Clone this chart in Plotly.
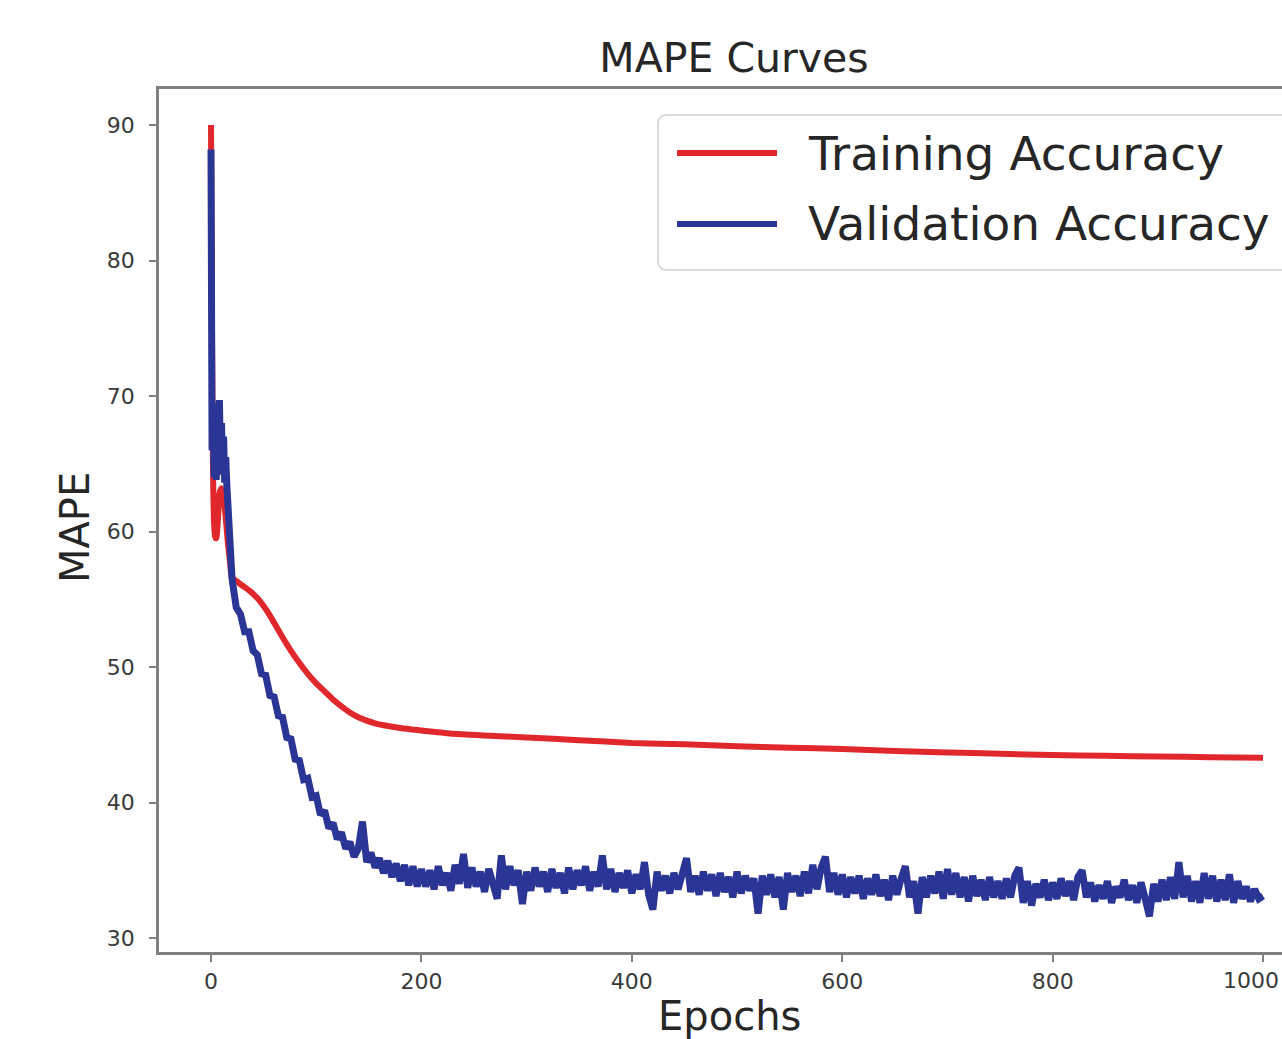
import plotly.graph_objects as go

# ---------------- data ----------------
series_names = ["Training Accuracy", "Validation Accuracy"]
chart_title = "MAPE Curves"
x_label = "Epochs"
y_label = "MAPE"
x_ticks = [0, 200, 400, 600, 800, 1000]
y_ticks = [30, 40, 50, 60, 70, 80, 90]

train_epochs = [0, 1, 2, 3, 4, 5, 6, 7, 8, 10, 12, 14, 16, 18, 20, 25, 30, 37, 44, 50,
                56, 62, 68, 76, 85, 92, 100, 108, 116, 124, 132, 140, 148, 156, 164, 180,
                196, 227, 260, 300, 350, 400, 450, 500, 550, 600, 650, 700, 750, 800, 850,
                900, 950, 1000]
train_mape = [90.0, 74.0, 64.0, 60.5, 59.6, 59.5, 60.2, 61.5, 62.8, 63.2, 62.5, 61.0, 59.2,
              57.8, 56.6, 56.3, 56.0, 55.6, 55.1, 54.5, 53.8, 53.0, 52.2, 51.2, 50.2, 49.5,
              48.8, 48.2, 47.6, 47.1, 46.65, 46.3, 46.05, 45.85, 45.7, 45.5, 45.35, 45.1,
              44.95, 44.8, 44.6, 44.4, 44.3, 44.15, 44.05, 43.95, 43.8, 43.7, 43.6, 43.5,
              43.45, 43.4, 43.35, 43.3]

val_epochs_early = [0, 1, 2, 3, 4, 5, 6, 7, 8, 9, 10, 11, 12, 13, 14, 15, 16, 17, 18, 19]
val_mape_early = [88.2, 66.0, 69.5, 64.0, 69.0, 63.8, 68.5, 64.5, 69.7, 65.0,
                  68.0, 64.2, 67.0, 63.6, 65.5, 63.5, 62.0, 60.5, 59.2, 58.0]

val_epochs_late = list(range(20, 1001, 4))
val_mape_late = [
    56.5, 54.4, 53.9, 52.6, 52.6, 51.2, 50.9, 49.5, 49.4, 47.9,
    47.8, 46.4, 46.3, 44.8, 44.7, 43.2, 43.1, 41.7, 41.8, 40.4,
    40.5, 39.1, 39.4, 38.1, 38.5, 37.3, 37.8, 36.6, 37.1, 36.0,
    36.6, 38.6, 35.6, 36.3, 35.2, 35.9, 34.8, 35.7, 34.5, 35.5,
    34.2, 35.4, 33.9, 35.3, 33.8,
    35.1, 33.8, 35.0, 33.6, 35.3, 33.9, 34.8, 33.5, 35.4, 34.0,
    36.2, 33.7, 35.2, 33.8, 34.9, 33.4, 35.1, 33.9, 32.9, 36.1,
    33.6, 35.3, 33.9, 35.0, 32.5, 34.9, 33.5, 35.2, 33.8, 34.9,
    33.4, 35.1, 33.7, 34.8, 33.3, 35.2, 33.6, 35.0, 33.9, 35.3,
    33.5, 34.9, 33.8, 36.1, 33.6, 35.1, 33.4, 34.8, 33.7, 35.0,
    33.3, 34.7, 33.6, 35.6, 33.2, 32.1, 34.9, 33.5, 34.6, 33.3,
    34.8, 33.6, 35.0, 35.9, 33.4, 34.6, 33.2, 34.9, 33.5, 34.7,
    33.1, 34.8, 33.4, 34.5, 33.0, 34.9, 33.3, 34.6, 33.5, 34.4,
    31.8, 34.6, 33.2, 34.7, 33.0, 34.5, 32.1, 34.8, 33.4, 34.6,
    33.1, 34.9, 33.3, 35.4, 33.6, 35.2, 36.0, 33.4, 34.8, 33.2,
    34.7, 33.0, 34.5, 33.3, 34.6, 32.9, 34.4, 33.2, 34.7, 33.1,
    34.3, 32.8, 34.6, 33.2, 34.4, 35.3, 33.0, 34.2, 31.8, 34.5,
    33.0, 34.6, 33.3, 34.9, 32.9, 35.1, 33.2, 34.8, 33.0, 34.5,
    32.7, 34.6, 33.1, 34.3, 32.8, 34.5, 33.0, 34.2, 32.9, 34.4,
    33.0, 34.6, 35.2, 32.6, 34.2, 32.4, 34.0, 33.0, 34.3, 32.8,
    34.1, 32.9, 34.4, 33.1, 34.2, 32.8, 34.5, 35.0, 33.0, 34.1,
    32.7, 33.9, 32.9, 34.2, 32.6, 33.8, 33.0, 34.3, 32.8, 33.9,
    32.6, 34.1, 32.9, 31.6, 34.0, 32.7, 34.3, 32.8, 34.5, 32.9,
    35.6, 33.0, 34.6, 32.7, 34.2, 32.6, 34.8, 32.9, 34.6, 32.7,
    34.3, 32.8, 34.7, 32.6, 34.2, 32.9, 33.8, 32.7, 33.6, 32.9,
    33.1,
]

val_epochs = val_epochs_early + val_epochs_late
val_mape = val_mape_early + val_mape_late

# ---------------- styling / layout ----------------
W, H = 1282, 1039
PL, PR, PT, PB = 159, 1282, 89, 952   # plot area in page pixels
RED = "#e0282c"
BLUE = "#2a3596"
FONT = "DejaVu Sans"
TXT = "#262626"
TICKTXT = "#3a3a3a"


def px(xp):
    return (xp - PL) / (PR - PL)


def py(yp):
    return (PB - yp) / (PB - PT)


fig = go.Figure()
fig.add_trace(go.Scatter(x=train_epochs, y=train_mape, mode="lines", name=series_names[0],
                         line=dict(color=RED, width=6, shape="spline", smoothing=0.6),
                         showlegend=False))
fig.add_trace(go.Scatter(x=val_epochs, y=val_mape, mode="lines", name=series_names[1],
                         line=dict(color=BLUE, width=7), showlegend=False))

axis_common = dict(showgrid=False, zeroline=False, showline=True, linecolor="#808080",
                   linewidth=2.5, ticks="outside", ticklen=7, tickwidth=1.5,
                   tickcolor="#808080", tickfont=dict(family=FONT, size=22, color=TICKTXT))

fig.update_xaxes(range=[-49.43, 1018.0], tickvals=x_ticks, mirror=True,
                 ticklabelstandoff=1, **axis_common)
fig.update_yaxes(range=[28.97, 92.66], tickvals=y_ticks, mirror=False,
                 ticklabelstandoff=10, **axis_common)

# legend box (manual, to match long legend handles)
lx0, ly0, ly1, r = 658, 115, 270, 9
path = (f"M {px(lx0 + r)},{py(ly0)} L {px(1320)},{py(ly0)} L {px(1320)},{py(ly1)} "
        f"L {px(lx0 + r)},{py(ly1)} Q {px(lx0)},{py(ly1)} {px(lx0)},{py(ly1 - r)} "
        f"L {px(lx0)},{py(ly0 + r)} Q {px(lx0)},{py(ly0)} {px(lx0 + r)},{py(ly0)} Z")
shapes = [dict(type="path", path=path, xref="paper", yref="paper",
               line=dict(color="#d0d0d0", width=1.5), fillcolor="rgba(255,255,255,0.85)",
               layer="above")]
annotations = []
for name, color, yc in [(series_names[0], RED, 153), (series_names[1], BLUE, 224)]:
    shapes.append(dict(type="line", xref="paper", yref="paper", x0=px(677), x1=px(777),
                       y0=py(yc), y1=py(yc), line=dict(color=color, width=6), layer="above"))
    annotations.append(dict(text=name, xref="paper", yref="paper", x=px(806), y=py(yc),
                            xanchor="left", yanchor="middle", showarrow=False,
                            font=dict(family=FONT, size=47, color=TXT)))

# last x tick label, kept just inside the page edge
annotations.append(dict(text=str(x_ticks[-1]), xref="paper", yref="paper", x=px(1281),
                        y=py(980), xanchor="right", yanchor="middle", showarrow=False,
                        font=dict(family=FONT, size=22, color=TICKTXT)))

annotations.append(dict(text=y_label, xref="paper", yref="paper", x=px(75), y=py(528),
                        textangle=-90, xanchor="center", yanchor="middle", showarrow=False,
                        font=dict(family=FONT, size=40, color=TXT)))
annotations.append(dict(text=x_label, xref="paper", yref="paper", x=px(729), y=py(1016),
                        xanchor="center", yanchor="middle", showarrow=False,
                        font=dict(family=FONT, size=40, color=TXT)))

fig.update_layout(
    width=W, height=H,
    margin=dict(l=PL, r=W - PR, t=PT, b=H - PB, pad=0),
    paper_bgcolor="white", plot_bgcolor="white",
    title=dict(text=chart_title, xref="container", yref="container", x=734 / W,
               y=1 - 58 / H, xanchor="center", yanchor="middle",
               font=dict(family=FONT, size=41, color=TXT)),
    shapes=shapes, annotations=annotations, showlegend=False,
)

fig.write_html("out.html")
